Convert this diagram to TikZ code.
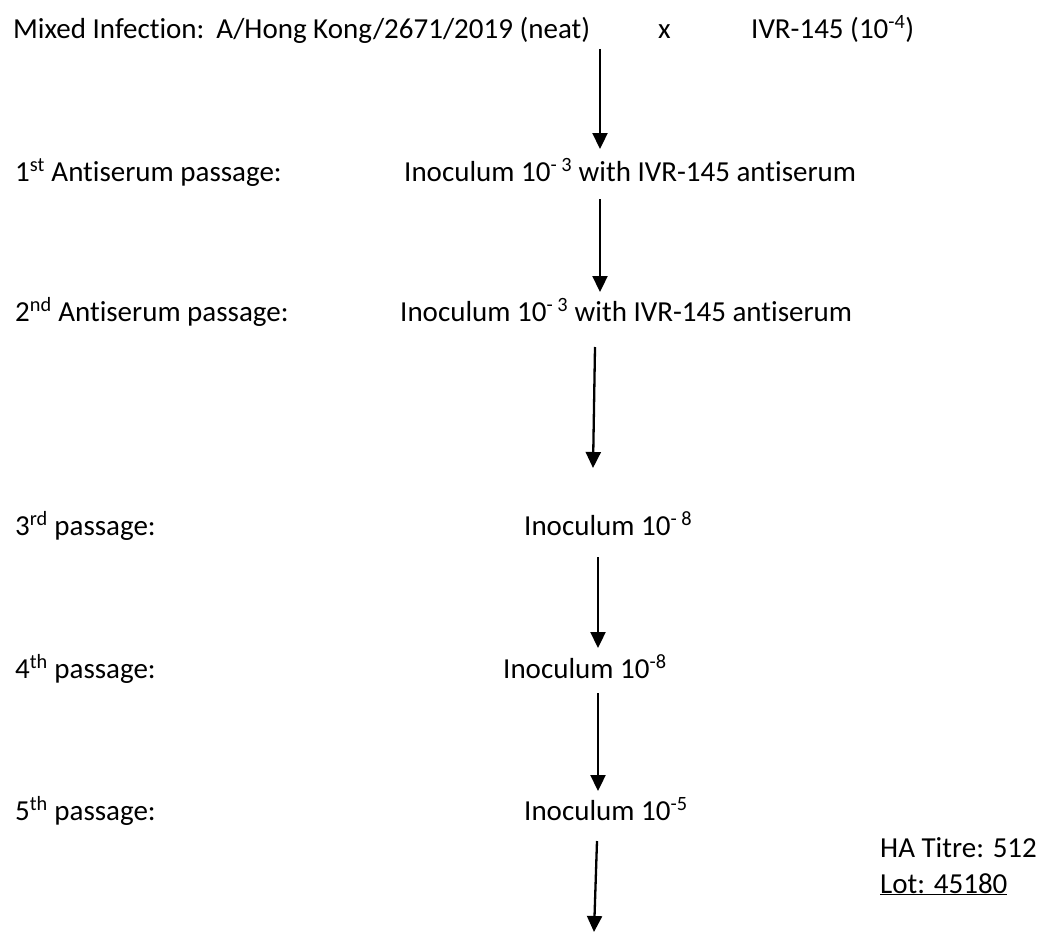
\documentclass[tikz,border=0pt]{standalone}
\usepackage{fontspec}
\setmainfont[Ligatures=NoCommon]{Carlito}
\usepackage{tikz}
\usetikzlibrary{arrows.meta}

\tikzset{
	txt/.style = {anchor=base west, inner sep=0pt, font=\fontsize{29}{34}\selectfont},
	flow/.style = {-{Triangle[width=15pt,length=16pt]}, line width=2.3pt},
}

\begin{document}
\begin{tikzpicture}[x=1pt, y=-1pt]
		\useasboundingbox (0,0) rectangle (1038,934);
		
		% mixed infection row
		\node[txt] (mix) at (13,38) {Mixed Infection:\hspace{12pt}A/Hong Kong/2671/2019 (neat)};
		\node[txt] (cross) at (658,38) {x};
		\node[txt] (ivr) at (751,38) {IVR-145 (10\textsuperscript{-4})};
		
		% passages
		\node[txt] (p1) at (15,181) {1\textsuperscript{st} Antiserum passage:};
		\node[txt] (p2) at (15,321) {2\textsuperscript{nd} Antiserum passage:};
		\node[txt] (p3) at (15,535) {3\textsuperscript{rd} passage:};
		\node[txt] (p4) at (15,678) {4\textsuperscript{th} passage:};
		\node[txt] (p5) at (15,820) {5\textsuperscript{th} passage:};
		
		\node[txt] (in1) at (404,181) {Inoculum 10\textsuperscript{- 3} with IVR-145 antiserum};
		\node[txt] (in2) at (400,321) {Inoculum 10\textsuperscript{- 3} with IVR-145 antiserum};
		\node[txt] (in3) at (524,535) {Inoculum 10\textsuperscript{- 8}};
		\node[txt] (in4) at (503,678) {Inoculum 10\textsuperscript{-8}};
		\node[txt] (in5) at (524,820) {Inoculum 10\textsuperscript{-5}};
		
		\node[txt] (titre) at (880,857) {HA Titre: 512};
		\node[txt] (lot) at (880,893) {\underline{Lot: 45180}};
		
		% arrows
		\coordinate (a1) at (600,49);
		\coordinate (b1) at (600,149);
		\coordinate (a2) at (600,199);
		\coordinate (b2) at (600,292);
		\coordinate (a3) at (595,347);
		\coordinate (b3) at (593,468);
		\coordinate (a4) at (598,557);
		\coordinate (b4) at (598,648);
		\coordinate (a5) at (598,693);
		\coordinate (b5) at (598,791);
		\coordinate (a6) at (597,841);
		\coordinate (b6) at (594,932);
		
		\draw[flow] (a1) -- (b1);
		\draw[flow] (a2) -- (b2);
		\draw[flow] (a3) -- (b3);
		\draw[flow] (a4) -- (b4);
		\draw[flow] (a5) -- (b5);
		\draw[flow] (a6) -- (b6);
		
\end{tikzpicture}
\end{document}
